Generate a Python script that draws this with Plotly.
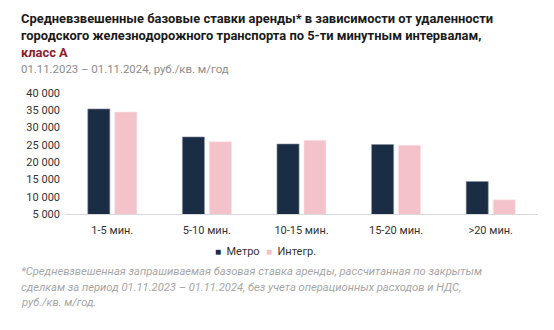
import plotly.graph_objects as go

categories = ["1-5 мин.", "5-10 мин.", "10-15 мин.", "15-20 мин.", ">20 мин."]
metro = [35400, 27300, 25250, 25100, 14400]
integr = [34500, 25900, 26300, 24900, 9100]
series_names = ["Метро", "Интегр."]
colors = ["#1b2d45", "#f4c2cb"]
y_ticks = [5000, 10000, 15000, 20000, 25000, 30000, 35000, 40000]

W, H = 554, 330
L, R, T, B = 65, 16, 93, 116
PW, PH = W - L - R, H - T - B

def px(x):
    return (x - L) / PW

def py(y):
    return (H - B - y) / PH

FONT = "Roboto"

fig = go.Figure()
fig.add_trace(go.Bar(x=categories, y=metro, name=series_names[0], showlegend=False,
                     marker=dict(color=colors[0], line=dict(color="#8a96a6", width=0.6))))
fig.add_trace(go.Bar(x=categories, y=integr, name=series_names[1], showlegend=False,
                     marker=dict(color=colors[1], line=dict(color="#fbe3e7", width=0.6))))

fig.update_layout(
    width=W, height=H,
    margin=dict(l=L, r=R, t=T, b=B, autoexpand=False),
    paper_bgcolor="white", plot_bgcolor="white",
    barmode="group", bargap=0.43, bargroupgap=0.18,
    separators=", ",
    font=dict(family=FONT, size=11, color="#333333"),
    showlegend=False,
    xaxis=dict(showgrid=False, showline=True, linecolor="#d9d9d9", linewidth=1,
               ticks="", tickfont=dict(size=11, color="#333333"), ticklabelstandoff=6),
    yaxis=dict(range=[5000, 40000], tickvals=y_ticks, tickformat=",d",
               showgrid=False, showline=False, zeroline=False, ticks="",
               tickfont=dict(size=11, color="#333333"), ticklabelstandoff=4),
)

def ann(text, x, y, size, color, bold=False, italic=False, family=FONT):
    t = f"<b>{text}</b>" if bold else text
    t = f"<i>{t}</i>" if italic else t
    fig.add_annotation(text=t, xref="paper", yref="paper", x=px(x), y=py(y),
                       xanchor="left", yanchor="middle", showarrow=False,
                       font=dict(family=family, size=size, color=color), align="left")

# custom legend
legend_x = [213, 264]
for name, c, lx in zip(series_names, colors, legend_x):
    ann(f"<span style='color:{c};font-size:10px'>■</span>  {name}", lx, 251, 11, "#333333")

ann("Средневзвешенные базовые ставки аренды* в зависимости от удаленности", 19, 18, 12.9, "#1a1a1a", bold=True)
ann("городского железнодорожного транспорта по 5-ти минутным интервалам,", 19, 35, 12.9, "#1a1a1a", bold=True)
ann("класс А", 19, 52, 12.9, "#8b1c2c", bold=True)
ann("01.11.2023 – 01.11.2024, руб./кв. м/год", 19, 69, 11.4, "#8c8c8c")
ann("*Средневзвешенная запрашиваемая базовая ставка аренды, рассчитанная по закрытым", 19, 271, 11.2, "#a6a6a6", italic=True)
ann("сделкам за период 01.11.2023 – 01.11.2024, без учета операционных расходов и НДС,", 19, 287, 11.2, "#a6a6a6", italic=True)
ann("руб./кв. м/год.", 19, 302, 11.2, "#a6a6a6", italic=True)

fig.write_html("out.html")
